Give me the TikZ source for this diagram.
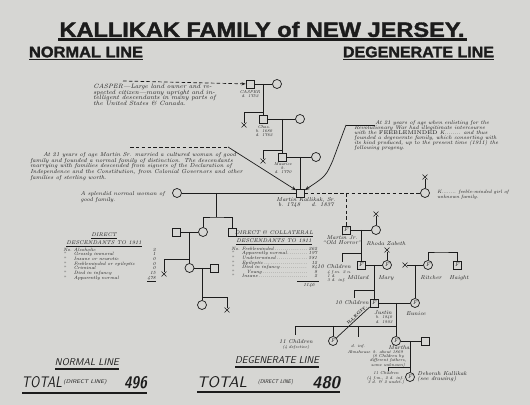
\documentclass[tikz,border=0pt]{standalone}
\usepackage{fontspec}
\usepackage{graphicx}
\usetikzlibrary{arrows.meta, positioning, shapes.misc}
\newfontfamily\headfont[BoldFeatures={FakeBold=1.6}]{Liberation Sans}
\definecolor{paper}{HTML}{D6D6D3}
\definecolor{ink}{HTML}{1C1C1C}
\newcommand{\fitbox}[3]{\resizebox{#1}{#2}{#3}}
\newcommand{\hand}[2]{\fontsize{#1}{#2}\selectfont\itshape}

\begin{document}
\begin{tikzpicture}[x=0.03cm, y=-0.03cm, color=ink, line width=0.6pt,
        every node/.append style={inner sep=0pt},
        male/.style={draw, rectangle, minimum size=0.24cm, font=\hand{4.8}{5}},
        female/.style={draw, circle, minimum size=0.27cm, font=\hand{4.8}{5}},
        gone/.style={draw, cross out, minimum size=0.13cm, line width=0.55pt},
        note/.style={align=center, font=\hand{4.8}{4.6}},
        lbl/.style={align=center, font=\hand{3.6}{3.7}},
        para/.style={align=left, anchor=north west},
        tally/.style={anchor=north west, font=\hand{4}{3.9}}
    ]
    \fill[paper] (0,0) rectangle (530,405);
    \useasboundingbox (0,0) rectangle (530,405);

    % headings
    \node (title) at (262,29.5) {\headfont\bfseries\fitbox{12.15cm}{0.45cm}{KALLIKAK FAMILY of NEW JERSEY.}};
    \draw[line width=2.3pt] (58,39.5) -- (467,39.5);
    \node (normhead) at (86,52) {\headfont\bfseries\fitbox{3.42cm}{0.32cm}{NORMAL LINE}};
    \draw[line width=1.6pt] (29,59.5) -- (143,59.5);
    \node (deghead) at (418.5,52) {\headfont\bfseries\fitbox{4.53cm}{0.32cm}{DEGENERATE LINE}};
    \draw[line width=1.6pt] (343,59.5) -- (494,59.5);

    % ancestors of Martin Sr.
    \node[male] (casper) at (250,84) {};
    \node[female] (casperwife) at (277,84) {};
    \node[lbl] (casperlbl) at (250,94) {CASPER\\d. 1752};
    \node[para, font=\hand{5.3}{5}] (caspertext) at (93,83.5) {CASPER---Large land owner and re-\\spected citizen---many upright and in-\\telligent descendants in many parts of\\the United States \& Canada.};
    \coordinate (casperbar) at (123,81);
    \draw[densely dashed, -{Stealth[length=3.5pt]}] (casperbar) -- (casper);

    \node[male] (chas) at (263.5,119) {};
    \node[female] (chaswife) at (300,119) {};
    \node[lbl] (chaslbl) at (264,131) {Chas.\\b. 1680\\d. 1762};
    \node[gone] (xchas) at (244,125) {};
    \coordinate (casperkids) at (263.5,84);
    \coordinate (casperfork) at (263.5,112);
    \draw (casper) -- (casperwife);
    \draw (casperkids) -- (chas);
    \draw (casperfork) -| (xchas);

    \node[male] (maurice) at (282,157) {};
    \node[female] (mauricewife) at (316,157) {};
    \node[lbl] (mauricelbl) at (283,168) {Maurice\\b.\\d. 1770};
    \node[gone] (xmaurice) at (263,161) {};
    \coordinate (chaskids) at (282,119);
    \coordinate (chasfork) at (282,150);
    \draw (chas) -- (chaswife);
    \draw (chaskids) -- (maurice);
    \draw (chasfork) -| (xmaurice);

    \node[male] (martin) at (300.5,193) {};
    \node[note, anchor=north] (martinlbl) at (306,197) {Martin Kallikak, Sr.\\b. 1748\qquad d. 1837};
    \coordinate (mauricekids) at (300.5,157);
    \draw (maurice) -- (mauricewife);
    \draw (mauricekids) -- (martin);

    % the two unions
    \node[para, font=\hand{4.9}{4.9}] (normaltext) at (30,152) {\hspace{0.39cm}At 21 years of age Martin Sr. married a cultured woman of good\\family and founded a normal family of distinction. The descendants\\marrying with families descended from signers of the Declaration of\\Independence and the Constitution, from Colonial Governors and other\\families of sterling worth.};
    \coordinate (normalbar) at (130,147);
    \coordinate (normalbend) at (228,147);
    \draw[densely dashed] (normalbar) -- (normalbend);
    \draw[-{Stealth[length=4pt]}] (normalbend) -- (martin);

    \node[para, font=\hand{4.6}{4.4}] (degentext) at (354,120) {\hspace{0.63cm}At 21 years of age when enlisting for the\\Revolutionary War had illegitimate intercourse\\with the {\upshape FEEBLEMINDED} K........ and thus\\founded a degenerate family, which consorting with\\its kind produced, up to the present time (1911) the\\following progeny.};
    \coordinate (degenbar) at (375,125);
    \coordinate (degenbend) at (346,125);
    \coordinate (degencurve) at (333,160);
    \draw (degenbar) -- (degenbend);
    \draw[-{Stealth[length=4pt]}] (degenbend) -- (degencurve) .. controls (326,176) .. (martin);

    \node[female] (goodwife) at (177,193) {};
    \node[note, anchor=east, align=left] (goodwifelbl) at (165,197) {A splendid normal woman of\\good family.};
    \draw (goodwife) -- (martin);
    \node[female] (kgirl) at (425,193) {};
    \node[gone] (xkgirl) at (425,177) {};
    \node[note, anchor=west, align=left, font=\hand{4.1}{4.6}] (kgirllbl) at (437,195) {K........ feeble-minded girl of\\unknown family.};
    \draw (xkgirl) -- (kgirl);
    \draw[densely dashed] (martin) -- (kgirl);

    % normal line
    \coordinate (goodkids) at (216,193);
    \coordinate (goodfork) at (216,217);
    \node[female] (dau1) at (203,232) {};
    \node[male] (son1) at (232,232) {};
    \node[male] (dau1man) at (176,232) {};
    \draw (goodkids) -- (goodfork);
    \draw (dau1.north) |- (goodfork) -| (son1);
    \draw (dau1man) -- (dau1);

    \coordinate (dau1kids) at (189.5,232);
    \coordinate (dau1fork) at (189.5,259);
    \node[female] (dau2) at (189.5,268) {};
    \node[gone] (xdau1) at (164,274) {};
    \node[male] (dau2man) at (214,268) {};
    \draw (dau1kids) -- (dau2);
    \draw (dau1fork) -| (xdau1);
    \draw (dau2) -- (dau2man);

    \coordinate (dau2kids) at (202,268);
    \coordinate (dau2fork) at (202,297);
    \node[female] (dau3) at (202,305) {};
    \node[gone] (xdau2) at (227,310) {};
    \draw (dau2kids) -- (dau3);
    \draw (dau2fork) -| (xdau2);

    \node[font=\hand{4.6}{4.6}, align=center] (directhead) at (104,239.5) {\underline{DIRECT}\\[0.4pt]\underline{DESCENDANTS TO 1911}};
    \node[tally] (directtab) at (63,247.5) {\begin{tabular}{@{}l@{\ }p{2.2cm}@{}r@{}}
        No. & Alcoholic & 2\\
        '' & Grossly immoral & 1\\
        '' & Insane or neurotic & 0\\
        '' & Feebleminded or epileptic & 0\\
        '' & Criminal & 0\\
        '' & Died in infancy & 15\\
        '' & Apparently normal & \underline{478}
    \end{tabular}};

    \node[font=\hand{4.6}{4.6}, align=center] (collhead) at (274,238) {\underline{DIRECT \& COLLATERAL}\\[0.4pt]\underline{DESCENDANTS TO 1911}};
    \node[tally] (colltab) at (231,246.5) {\begin{tabular}{@{}l@{\ }p{1.98cm}@{\,}r@{}}
        No. & Feebleminded\dotfill & 262\\
        '' & Apparently normal\dotfill & 197\\
        '' & Undetermined\dotfill & 581\\
        '' & Epileptic\dotfill & 12\\
        '' & Died in infancy\dotfill & 84\\
        '' & \quad Young\dotfill & 8\\
        '' & Insane\dotfill & 2
    \end{tabular}};
    \draw[line width=0.5pt] (297,281) -- (319,281);
    \node[font=\hand{4}{4}] (colltotal) at (309,285) {1146};

    % degenerate line
    \coordinate (kgirlkids) at (346,193);
    \node[male] (martinjr) at (346,230) {F};
    \node[female] (rhoda) at (376,230) {};
    \node[gone] (xrhoda) at (376,214) {};
    \node[note, anchor=north] (martinjrlbl) at (342,235) {Martin Jr.\\``Old Horror''};
    \node[note] (rhodalbl) at (386,244) {Rhoda Zabeth};
    \draw[densely dashed] (kgirlkids) -- (martinjr);
    \draw (xrhoda) -- (rhoda);
    \draw (martinjr) -- (rhoda);

    \coordinate (martinjrkids) at (361,230);
    \coordinate (martinjrfork) at (361,253);
    \coordinate (kids1top) at (342,262);
    \node[male] (millard) at (361,265) {F};
    \node[note] (kids1) at (334,266.5) {10 Children};
    \node[lbl, anchor=north west, align=left] (kids1info) at (327,270) {4 f.m. 2 n.\\1 d.\\3 d. inf.};
    \draw (martinjrkids) -- (millard);
    \draw (martinjrfork) -| (kids1top);

    \node[female] (mary) at (387,265) {F};
    \node[gone] (xmary) at (387,250) {};
    \node[note] (millardlbl) at (358,278) {Millard};
    \node[note] (marylbl) at (386,278) {Mary};
    \draw (xmary) -- (mary);
    \draw (millard) -- (mary);

    \node[gone] (xeunicedad) at (405,265) {};
    \node[female] (ritcher) at (428,265) {F};
    \node[male] (haight) at (457,265) {F};
    \coordinate (ritcherbar) at (440,252);
    \node[note] (ritcherlbl) at (431,278) {Ritcher};
    \node[note] (haightlbl) at (459,278) {Haight};
    \draw (xeunicedad) -- (ritcher);
    \draw (ritcher) |- (ritcherbar) -| (haight);

    \coordinate (eunicekin) at (415,265);
    \node[female] (eunice) at (415,303) {F};
    \node[note] (eunicelbl) at (416,314) {Eunice};
    \draw (eunicekin) -- (eunice);

    \coordinate (millardkids) at (374,265);
    \coordinate (millardfork) at (374,290);
    \coordinate (kids2top) at (354,298);
    \node[male] (justin) at (374,303) {F};
    \node[note] (kids2) at (352,303) {10 Children};
    \node[note] (justinlbl) at (383,313) {Justin};
    \node[lbl] (justindates) at (384,319.5) {b. 1840\\d. 1903};
    \draw (millardkids) -- (justin);
    \draw (millardfork) -| (kids2top);
    \draw (justin) -- (eunice);

    \coordinate (justinkids) at (396,303);
    \coordinate (justinfork) at (396,326);
    \coordinate (kids3top) at (295,335);
    \coordinate (illchildtop) at (333,326);
    \coordinate (infanttop) at (358,326);
    \coordinate (infantend) at (358,337);
    \node[female] (martha) at (396,341) {F};
    \node[female] (illchild) at (333,341) {F};
    \node[note] (kids3) at (296,342) {11 Children};
    \node[lbl] (kids3info) at (296,347.5) {(4 defective)};
    \node[lbl] (infantlbl) at (358,346) {d. inf.};
    \node[lbl] (almslbl) at (359,352.5) {Almshouse};
    \draw (justinkids) -- (martha);
    \draw (justinfork) -| (kids3top);
    \draw (illchildtop) -- (illchild);
    \draw (infanttop) -- (infantend);
    \draw (justin) -- node[pos=0.33, sloped, above=0.8pt, font=\hand{3.4}{3.4}\upshape\bfseries] {ILLEGIT.} (illchild);

    \node[male] (marthaman) at (425,341) {};
    \node[note] (marthalbl) at (399,347.5) {Martha};
    \node[lbl, anchor=north] (marthainfo) at (388,350) {b. about 1869\\(8 Children by\\different fathers,\\some unknown)};
    \draw (martha) -- (marthaman);

    \coordinate (marthakids) at (410,341);
    \coordinate (marthafork) at (410,367);
    \coordinate (kids4top) at (388,371);
    \node[female] (deborah) at (410,377) {F};
    \node[lbl, anchor=north] (kids4) at (386,371.5) {11 Children\\(4 f.m., 2 d. inf.,\\3 d. \& 2 undet.)};
    \node[note, anchor=west, align=left] (deborahlbl) at (417,376.5) {Deborah Kallikak\\(see drawing)};
    \draw (marthakids) -- (deborah);
    \draw (marthafork) -| (kids4top);

    % totals
    \node (normfoot) at (87,362.5) {\sffamily\itshape\fitbox{1.92cm}{0.21cm}{NORMAL LINE}};
    \draw[line width=1.1pt] (55,369) -- (119,369);
    \node (normtotal) at (42,382.5) {\sffamily\itshape\fitbox{1.2cm}{0.33cm}{TOTAL}};
    \node (normdirect) at (85,382) {\sffamily\itshape\fitbox{1.29cm}{0.12cm}{(DIRECT LINE)}};
    \node (normcount) at (135.5,383) {\sffamily\itshape\bfseries\fitbox{0.69cm}{0.36cm}{496}};
    \draw[line width=1.1pt] (22,393) -- (147,393);

    \node (degfoot) at (277,360.5) {\sffamily\itshape\fitbox{2.52cm}{0.21cm}{DEGENERATE LINE}};
    \draw[line width=1.1pt] (235,367) -- (319,367);
    \node (degtotal) at (222,382.5) {\sffamily\itshape\fitbox{1.5cm}{0.33cm}{TOTAL}};
    \node (degdirect) at (275.5,382) {\sffamily\itshape\fitbox{1.05cm}{0.12cm}{(DIRECT LINE)}};
    \node (degcount) at (326,382.5) {\sffamily\itshape\bfseries\fitbox{0.84cm}{0.36cm}{480}};
    \draw[line width=1.1pt] (197,392) -- (340,392);
\end{tikzpicture}
\end{document}
